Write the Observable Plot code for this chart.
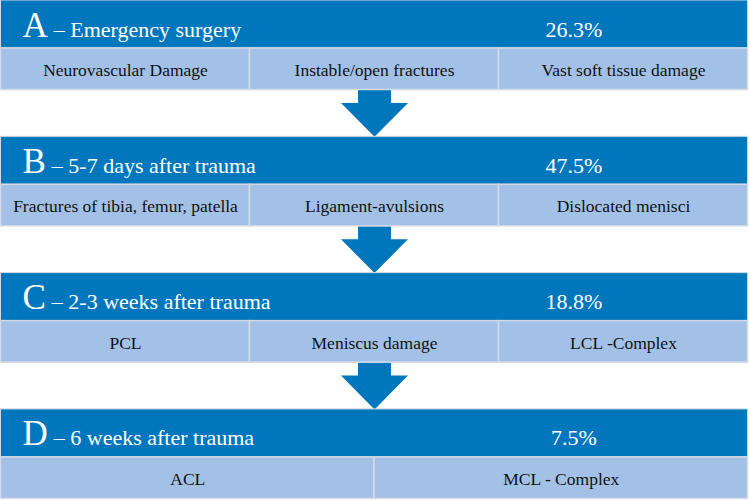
<!DOCTYPE html>
<html><head><meta charset="utf-8">
<script src="https://cdn.jsdelivr.net/npm/d3@7"></script>
<script src="https://cdn.jsdelivr.net/npm/@observablehq/plot@0.6"></script>
<style>html,body{margin:0;padding:0;background:#fff} svg{display:block}</style>
</head><body><div id="chart"></div>
<script>
// ---- data ----
const letters = ["A", "B", "C", "D"];
const phases = ["– Emergency surgery", "– 5-7 days after trauma", "– 2-3 weeks after trauma", "– 6 weeks after trauma"];
const shares = ["26.3%", "47.5%", "18.8%", "7.5%"];
const findingsA = ["Neurovascular Damage", "Instable/open fractures", "Vast soft tissue damage"];
const findingsB = ["Fractures of tibia, femur, patella", "Ligament-avulsions", "Dislocated menisci"];
const findingsC = ["PCL", "Meniscus damage", "LCL -Complex"];
const findingsD = ["ACL", "MCL - Complex"];
const findings = [findingsA, findingsB, findingsC, findingsD];

// ---- layout ----
const W = 749, H = 500;
const xLeft = 0.5, xRight = 747.5, bw = xRight - xLeft;
const step = 136.3, headH = 48, rowH = 41.5, blockH = headH + rowH;
const blockTop = i => i * step;
const dark = "#0077BD", light = "#A3C1E6", edge = "#D3DAE5";
const serif = "'Liberation Serif', 'Times New Roman', serif";

const stages = letters.map((l, i) => ({i, letter: l, phase: phases[i], share: shares[i], y: blockTop(i)}));
const cells = findings.flatMap((arr, i) => arr.map((t, j) => ({
  text: t,
  x1: xLeft + bw * j / arr.length,
  x2: xLeft + bw * (j + 1) / arr.length,
  y1: blockTop(i) + headH,
  y2: blockTop(i) + blockH
})));

// measure letter width for subtitle placement
const ctx = document.createElement("canvas").getContext("2d");
ctx.font = `35px ${serif}`;
stages.forEach(s => { s.lw = ctx.measureText(s.letter).width; });

const cx = W / 2;
const arrows = stages.slice(0, -1).flatMap(s => {
  const y0 = s.y + blockH + 0.5, yh = s.y + 103, yt = blockTop(s.i + 1) + 0.5;
  return [
    {i: s.i, y: y0, x1: cx - 16.5, x2: cx + 16.5},
    {i: s.i, y: yh, x1: cx - 16.5, x2: cx + 16.5},
    {i: s.i, y: yh, x1: cx - 33.5, x2: cx + 33.5},
    {i: s.i, y: yt, x1: cx, x2: cx}
  ];
});

const plot = Plot.plot({
  width: W, height: H,
  margin: 0,
  x: {type: "linear", domain: [0, W], range: [0, W], axis: null},
  y: {type: "linear", domain: [0, H], range: [0, H], axis: null},
  style: {background: "#fff"},
  marks: [
    Plot.areaX(arrows, {y: "y", x1: "x1", x2: "x2", z: "i", fill: dark}),
    Plot.rect(stages, {x1: xLeft, x2: xRight, y1: "y", y2: d => d.y + headH, fill: dark, stroke: edge, strokeWidth: 1}),
    Plot.rect(cells, {x1: "x1", x2: "x2", y1: "y1", y2: "y2", fill: light, stroke: edge, strokeWidth: 1.5}),
    Plot.text(stages, {x: 22, y: d => d.y + 36, text: "letter", textAnchor: "start", lineAnchor: "bottom",
      fontSize: 35, fontFamily: serif, fill: "#fff"}),
    Plot.text(stages, {x: d => 22 + d.lw + 6, y: d => d.y + 36, text: "phase", textAnchor: "start", lineAnchor: "bottom",
      fontSize: 22, fontFamily: serif, fill: "#fff"}),
    Plot.text(stages, {x: 573.5, y: d => d.y + 36, text: "share", textAnchor: "middle", lineAnchor: "bottom",
      fontSize: 22, fontFamily: serif, fill: "#fff"}),
    Plot.text(cells, {x: d => (d.x1 + d.x2) / 2, y: d => d.y1 + 27.5, text: "text", textAnchor: "middle", lineAnchor: "bottom",
      fontSize: 17.5, fontFamily: serif, fill: "#111"})
  ]
});
document.getElementById("chart").appendChild(plot);
</script>
</body></html>
